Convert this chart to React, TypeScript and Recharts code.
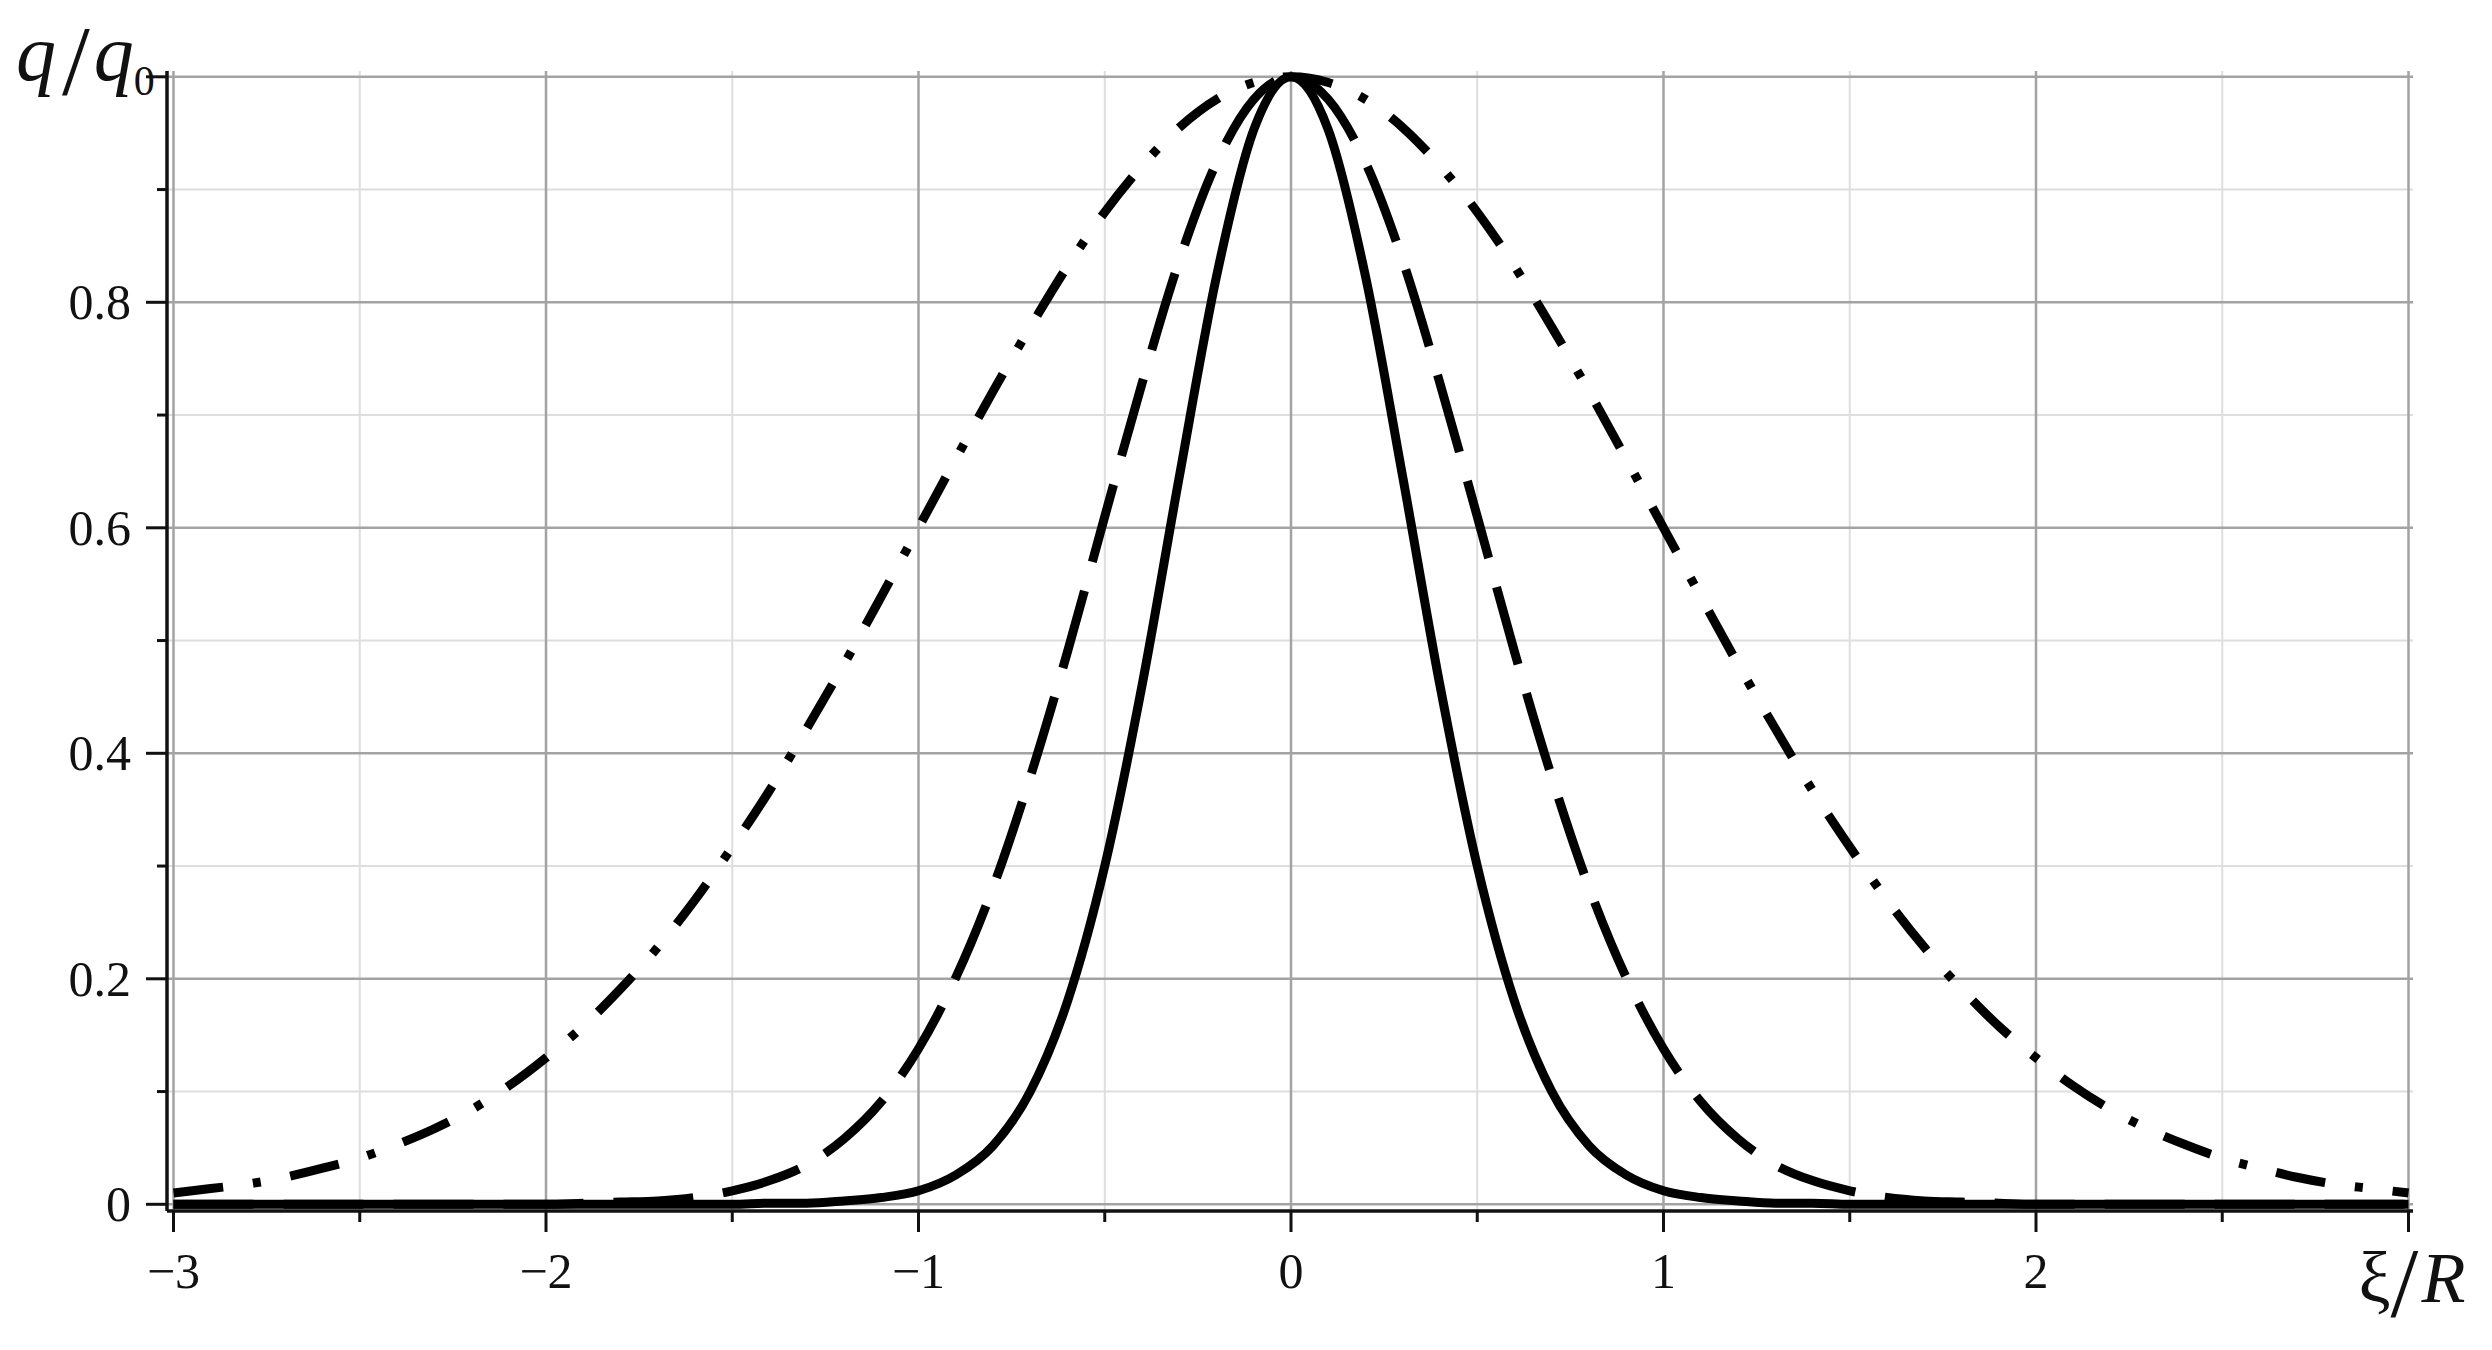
import React from "react";
import { LineChart, Line, XAxis, YAxis, CartesianGrid } from "recharts";

// abscissa xi/R, sampled every 0.1
const xValues = [
  -3, -2.9, -2.8, -2.7, -2.6, -2.5, -2.4, -2.3, -2.2, -2.1,
  -2, -1.9, -1.8, -1.7, -1.6, -1.5, -1.4, -1.3, -1.2, -1.1,
  -1, -0.9, -0.8, -0.7, -0.6, -0.5, -0.4, -0.3, -0.2, -0.1,
  0,
  0.1, 0.2, 0.3, 0.4, 0.5, 0.6, 0.7, 0.8, 0.9, 1,
  1.1, 1.2, 1.3, 1.4, 1.5, 1.6, 1.7, 1.8, 1.9, 2,
  2.1, 2.2, 2.3, 2.4, 2.5, 2.6, 2.7, 2.8, 2.9, 3,
];

// q/q0, solid (narrowest) curve
const solidValues = [
  0, 0, 0, 0, 0, 0, 0, 0, 0, 0,
  0, 0, 0, 0, 0, 0, 0.001, 0.001, 0.003, 0.006,
  0.012, 0.026, 0.052, 0.1, 0.18, 0.3, 0.46, 0.645, 0.823, 0.953,
  1,
  0.953, 0.823, 0.645, 0.46, 0.3, 0.18, 0.1, 0.052, 0.026, 0.012,
  0.006, 0.003, 0.001, 0.001, 0, 0, 0, 0, 0, 0,
  0, 0, 0, 0, 0, 0, 0, 0, 0, 0,
];

// q/q0, dashed curve
const dashedValues = [
  0, 0, 0, 0, 0, 0, 0, 0, 0, 0,
  0, 0.001, 0.002, 0.003, 0.006, 0.012, 0.021, 0.035, 0.058, 0.091,
  0.138, 0.201, 0.281, 0.379, 0.49, 0.61, 0.728, 0.837, 0.924, 0.98,
  1,
  0.98, 0.924, 0.837, 0.728, 0.61, 0.49, 0.379, 0.281, 0.201, 0.138,
  0.091, 0.058, 0.035, 0.021, 0.012, 0.006, 0.003, 0.002, 0.001, 0,
  0, 0, 0, 0, 0, 0, 0, 0, 0, 0,
];

// q/q0, dash-dot (widest) curve
const dashDotValues = [
  0.01, 0.014, 0.018, 0.024, 0.032, 0.041, 0.053, 0.067, 0.084, 0.105,
  0.13, 0.158, 0.191, 0.228, 0.27, 0.317, 0.367, 0.422, 0.479, 0.539,
  0.6, 0.661, 0.721, 0.778, 0.832, 0.88, 0.921, 0.955, 0.98, 0.995,
  1,
  0.995, 0.98, 0.955, 0.921, 0.88, 0.832, 0.778, 0.721, 0.661, 0.6,
  0.539, 0.479, 0.422, 0.367, 0.317, 0.27, 0.228, 0.191, 0.158, 0.13,
  0.105, 0.084, 0.067, 0.053, 0.041, 0.032, 0.024, 0.018, 0.014, 0.01,
];

const xTicks = [-3, -2.5, -2, -1.5, -1, -0.5, 0, 0.5, 1, 1.5, 2, 2.5, 3];
const yTicks = [0, 0.1, 0.2, 0.3, 0.4, 0.5, 0.6, 0.7, 0.8, 0.9, 1];
const xMajorGrid = [-3, -2, -1, 0, 1, 2, 3];
const xMinorGrid = [-2.5, -1.5, -0.5, 0.5, 1.5, 2.5];
const yMajorGrid = [0, 0.2, 0.4, 0.6, 0.8, 1];
const yMinorGrid = [0.1, 0.3, 0.5, 0.7, 0.9];

const data = xValues.map((x, i) => ({
  x,
  solid: solidValues[i],
  dashed: dashedValues[i],
  dashDot: dashDotValues[i],
}));

const INK = "#111";
const FONT = "'Liberation Serif', 'Times New Roman', serif";

function XTick(props: any) {
  const { x, y, payload } = props;
  const v = payload.value;
  const major = Math.abs(v - Math.round(v)) < 1e-6;
  const axisY = y - 21;
  return (
    <g>
      <line x1={x} x2={x} y1={axisY} y2={axisY + (major ? 21 : 11)} stroke={INK} strokeWidth={3} />
      {major && v !== 3 && (
        <text x={x} y={y + 56} textAnchor="middle" fontSize={50} fontFamily={FONT} fill={INK}>
          {v < 0 ? `\u2212${-v}` : `${v}`}
        </text>
      )}
      {v === 3 && (
        <text x={x - 50} y={y + 70} fontSize={72} fontFamily={FONT} fill={INK}>
          <tspan>ξ</tspan>
          <tspan fontSize={100} dy={14}>/</tspan>
          <tspan fontStyle="italic" dx={3} dy={-14}>R</tspan>
        </text>
      )}
    </g>
  );
}

function YTick(props: any) {
  const { x, y, payload } = props;
  const v = payload.value;
  const major = Math.abs(v * 5 - Math.round(v * 5)) < 1e-6;
  return (
    <g>
      <line x1={x + (major ? 0 : 11)} x2={x + 21} y1={y} y2={y} stroke={INK} strokeWidth={3} />
      {major && v !== 1 && (
        <text x={x - 15} y={y + 17} textAnchor="end" fontSize={50} fontFamily={FONT} fill={INK}>
          {v === 0 ? "0" : v.toFixed(1)}
        </text>
      )}
      {v === 1 && (
        <text x={x - 130} y={y + 3} fontSize={80} fontFamily={FONT} fill={INK}>
          <tspan fontStyle="italic">q</tspan>
          <tspan fontSize={100} dx={6} dy={14}>/</tspan>
          <tspan fontStyle="italic" dx={4} dy={-14}>q</tspan>
          <tspan fontSize={42} dx={0} dy={15}>0</tspan>
        </text>
      )}
    </g>
  );
}

export default function App() {
  return (
    <div style={{ position: "absolute", left: 0, top: 0, background: "#fff" }}>
      <LineChart
        width={2492}
        height={1350}
        data={data}
        margin={{ top: 71, right: 79, bottom: 39, left: 0 }}
      >
        <CartesianGrid
          horizontalValues={yMinorGrid}
          verticalValues={xMinorGrid}
          stroke="#dedede"
          strokeWidth={2}
        />
        <CartesianGrid
          horizontalValues={yMajorGrid}
          verticalValues={xMajorGrid}
          stroke="#a3a3a3"
          strokeWidth={2.5}
        />
        <XAxis
          dataKey="x"
          type="number"
          domain={[-3, 3]}
          ticks={xTicks}
          interval={0}
          padding={{ left: 6.5, right: 4.5 }}
          height={100}
          tickSize={21}
          tickMargin={0}
          tickLine={false}
          tick={<XTick />}
          axisLine={{ stroke: INK, strokeWidth: 3.5 }}
        />
        <YAxis
          type="number"
          domain={[0, 1]}
          ticks={yTicks}
          interval={0}
          padding={{ top: 5.8, bottom: 6.7 }}
          width={167}
          tickSize={21}
          tickMargin={0}
          tickLine={false}
          tick={<YTick />}
          axisLine={{ stroke: INK, strokeWidth: 3.5 }}
        />
        <XAxis
          xAxisId="top"
          orientation="top"
          type="number"
          domain={[-3, 3]}
          height={0}
          tick={false}
          tickLine={false}
          axisLine={{ stroke: INK, strokeWidth: 3.5 }}
        />
        <YAxis
          yAxisId="right"
          orientation="right"
          type="number"
          domain={[0, 1]}
          width={0}
          tick={false}
          tickLine={false}
          axisLine={{ stroke: INK, strokeWidth: 3.5 }}
        />
        <Line
          type="monotone"
          dataKey="dashDot"
          stroke="#000"
          strokeWidth={9}
          strokeDasharray="50 30 8 30"
          dot={false}
          isAnimationActive={false}
        />
        <Line
          type="monotone"
          dataKey="dashed"
          stroke="#000"
          strokeWidth={9}
          strokeDasharray="80 30"
          dot={false}
          isAnimationActive={false}
        />
        <Line
          type="monotone"
          dataKey="solid"
          stroke="#000"
          strokeWidth={9}
          dot={false}
          isAnimationActive={false}
        />
      </LineChart>
    </div>
  );
}
